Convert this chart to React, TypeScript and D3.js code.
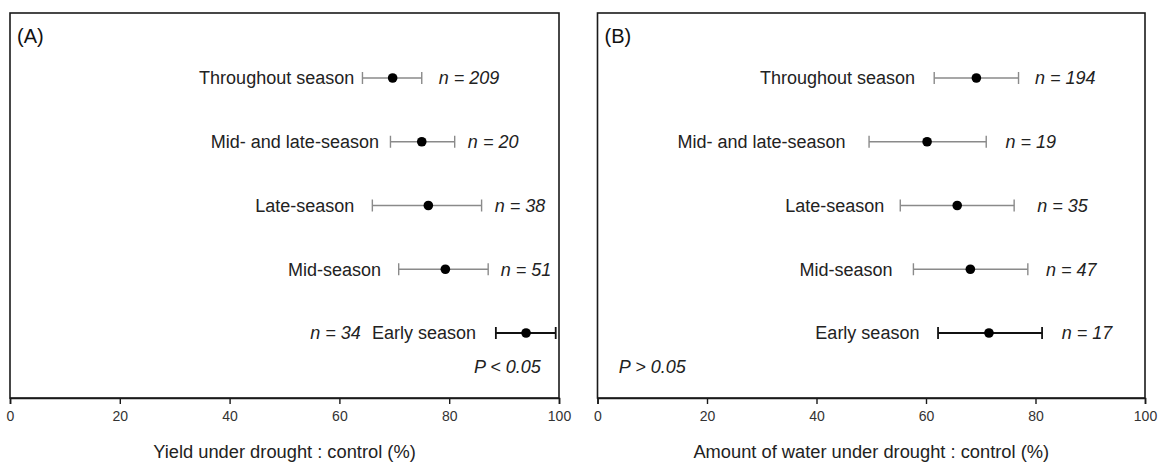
import React, { useEffect, useRef } from "react";
import * as d3 from "d3";

// categories, top to bottom
const categories = [
  "Throughout season",
  "Mid- and late-season",
  "Late-season",
  "Mid-season",
  "Early season",
];

// panel A: yield under drought : control (%)
const yieldMean = [69.7, 75.0, 76.2, 79.3, 94.0];
const yieldLow = [64.2, 69.3, 66.0, 70.8, 88.5];
const yieldHigh = [75.0, 81.0, 85.9, 87.1, 99.4];
const yieldN = [209, 20, 38, 51, 34];
// annotation anchors, in axis units
const yieldLabelAt = [62.7, 67.2, 62.7, 67.6, 84.9];
const yieldNAt = [78.1, 83.4, 88.3, 89.4, 63.9];

// panel B: amount of water under drought : control (%)
const waterMean = [69.2, 60.2, 65.7, 68.1, 71.5];
const waterLow = [61.5, 49.6, 55.3, 57.7, 62.2];
const waterHigh = [76.9, 71.0, 76.1, 78.6, 81.2];
const waterN = [194, 19, 35, 47, 17];
const waterLabelAt = [58.0, 45.3, 52.4, 53.9, 58.8];
const waterNAt = [79.9, 74.5, 80.3, 81.9, 84.8];

const xTicks = [0, 20, 40, 60, 80, 100];

type Panel = {
  tag: string;
  title: string;
  mean: number[];
  low: number[];
  high: number[];
  n: number[];
  labelAt: number[];
  nAt: number[];
  nLeft: boolean[];
  pText: string;
  pAt: number;
  left: number;
  right: number;
};

const panels: Panel[] = [
  {
    tag: "(A)",
    title: "Yield under drought : control (%)",
    mean: yieldMean,
    low: yieldLow,
    high: yieldHigh,
    n: yieldN,
    labelAt: yieldLabelAt,
    nAt: yieldNAt,
    nLeft: [false, false, false, false, true],
    pText: "P < 0.05",
    pAt: 84.5,
    left: 10,
    right: 559,
  },
  {
    tag: "(B)",
    title: "Amount of water under drought : control (%)",
    mean: waterMean,
    low: waterLow,
    high: waterHigh,
    n: waterN,
    labelAt: waterLabelAt,
    nAt: waterNAt,
    nLeft: [false, false, false, false, false],
    pText: "P > 0.05",
    pAt: 3.9,
    left: 597.5,
    right: 1145,
  },
];

const W = 1162;
const H = 463;
const top = 13;
const bottom = 398;
const font = "'Liberation Sans', Arial, sans-serif";

export default function App() {
  const ref = useRef<SVGSVGElement>(null);

  useEffect(() => {
    const svg = d3.select(ref.current);
    svg.selectAll("*").remove();

    const y = d3.scalePoint<string>().domain(categories).range([78, 333]);

    panels.forEach((p) => {
      const x = d3.scaleLinear().domain([0, 100]).range([p.left, p.right]);
      const g = svg.append("g");

      // frame
      g.append("rect")
        .attr("x", p.left)
        .attr("y", top)
        .attr("width", p.right - p.left)
        .attr("height", bottom - top)
        .attr("fill", "none")
        .attr("stroke", "#1a1a1a")
        .attr("stroke-width", 1.6);

      // x axis
      const axis = g
        .append("g")
        .attr("transform", `translate(0,${bottom})`)
        .call(d3.axisBottom(x).tickValues(xTicks).tickSize(6).tickPadding(7));
      axis.select(".domain").attr("stroke", "#1a1a1a").attr("stroke-width", 1.6);
      axis.selectAll(".tick line").attr("stroke", "#1a1a1a").attr("stroke-width", 1.4);
      axis
        .selectAll(".tick text")
        .attr("font-family", font)
        .attr("font-size", 14)
        .attr("fill", "#333");

      g.append("text")
        .attr("x", (p.left + p.right) / 2)
        .attr("y", 452)
        .attr("dy", "0.35em")
        .attr("text-anchor", "middle")
        .attr("font-family", font)
        .attr("font-size", 18.3)
        .attr("fill", "#222")
        .text(p.title);

      g.append("text")
        .attr("x", p.left + 7)
        .attr("y", 36)
        .attr("dy", "0.35em")
        .attr("font-family", font)
        .attr("font-size", 20)
        .attr("fill", "#111")
        .text(p.tag);

      categories.forEach((c, i) => {
        const cy = y(c) as number;
        const isEarly = i === categories.length - 1;
        const col = isEarly ? "#111" : "#8a8a8a";
        const sw = isEarly ? 1.8 : 1.4;

        // error bar
        g.append("line")
          .attr("x1", x(p.low[i]))
          .attr("x2", x(p.high[i]))
          .attr("y1", cy)
          .attr("y2", cy)
          .attr("stroke", col)
          .attr("stroke-width", sw);
        [p.low[i], p.high[i]].forEach((v) => {
          g.append("line")
            .attr("x1", x(v))
            .attr("x2", x(v))
            .attr("y1", cy - 6)
            .attr("y2", cy + 6)
            .attr("stroke", col)
            .attr("stroke-width", sw);
        });

        g.append("circle")
          .attr("cx", x(p.mean[i]))
          .attr("cy", cy)
          .attr("r", 4.8)
          .attr("fill", "#000");

        g.append("text")
          .attr("x", x(p.labelAt[i]))
          .attr("y", cy)
          .attr("dy", "0.35em")
          .attr("text-anchor", "end")
          .attr("font-family", font)
          .attr("font-size", 18)
          .attr("fill", "#222")
          .text(c);

        const nt = g
          .append("text")
          .attr("x", x(p.nAt[i]))
          .attr("y", cy)
          .attr("dy", "0.35em")
          .attr("text-anchor", p.nLeft[i] ? "end" : "start")
          .attr("font-family", font)
          .attr("font-size", 18)
          .attr("font-style", "italic")
          .attr("fill", "#222");
        nt.append("tspan").text("n");
        nt.append("tspan").text(` = ${p.n[i]}`);
      });

      g.append("text")
        .attr("x", x(p.pAt))
        .attr("y", 367)
        .attr("dy", "0.35em")
        .attr("font-family", font)
        .attr("font-size", 18)
        .attr("font-style", "italic")
        .attr("fill", "#222")
        .text(p.pText);
    });
  }, []);

  return (
    <svg
      ref={ref}
      width={W}
      height={H}
      style={{ position: "absolute", left: 0, top: 0, background: "#fff" }}
    />
  );
}
